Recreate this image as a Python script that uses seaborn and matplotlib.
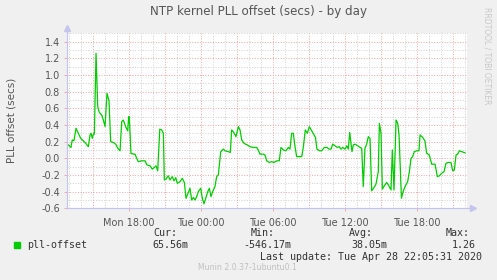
import matplotlib
matplotlib.use("Agg")
import matplotlib.pyplot as plt
import seaborn as sns
import numpy as np
import pandas as pd

# ---- data (hours since Mon 00:00, offset in seconds) ----
hours = [12.83, 12.96, 13.18, 13.29, 13.43, 13.60, 13.79, 13.99, 14.35, 14.63,
         14.77, 14.85, 14.96, 15.04, 15.13, 15.27, 15.41, 15.54, 15.74, 15.88,
         16.02, 16.18, 16.35, 16.49, 16.71, 16.91, 17.08, 17.27, 17.41, 17.54,
         17.74, 17.91, 17.99, 18.04, 18.18, 18.38, 18.52, 18.66, 18.79, 19.08,
         19.35, 19.52, 19.77, 19.96, 20.13, 20.27, 20.41, 20.58, 20.74, 20.88,
         20.96, 21.10, 21.29, 21.43, 21.62, 21.77, 21.91, 22.04, 22.27, 22.46,
         22.63, 22.77, 22.91, 23.10, 23.24, 23.38, 23.52, 23.66, 23.79, 23.99,
         24.13, 24.27, 24.41, 24.58, 24.71, 24.85, 24.99, 25.18, 25.32, 25.46,
         25.66, 25.88, 26.02, 26.29, 26.46, 26.57, 26.71, 26.93, 27.13, 27.27,
         27.41, 27.60, 27.88, 28.10, 28.38, 28.66, 28.79, 28.93, 29.21, 29.35,
         29.49, 29.71, 29.91, 30.10, 30.33, 30.54, 30.68, 30.88, 31.10, 31.29,
         31.43, 31.57, 31.71, 31.85, 31.99, 32.27, 32.41, 32.54, 32.71, 32.88,
         33.04, 33.24, 33.43, 33.56, 33.68, 33.89, 34.07, 34.29, 34.54, 34.68,
         34.85, 34.99, 35.18, 35.38, 35.52, 35.68, 35.82, 36.02, 36.16, 36.29,
         36.41, 36.52, 36.60, 36.71, 36.85, 37.08, 37.27, 37.41, 37.54, 37.68,
         37.82, 37.96, 38.10, 38.24, 38.43, 38.60, 38.79, 38.88, 39.02, 39.13,
         39.29, 39.49, 39.63, 39.85, 39.96, 40.10, 40.27, 40.41, 40.52, 40.72,
         40.88, 41.02, 41.24, 41.38, 41.52, 41.66, 41.79, 41.99, 42.18, 42.27,
         42.49, 42.68, 42.82, 43.04, 43.24, 43.52, 43.71, 43.88, 44.07, 44.27,
         44.43, 44.63, 44.85, 44.99, 45.13, 45.27, 45.41, 45.54, 45.74, 46.02]
offset = [0.18, 0.16, 0.13, 0.22, 0.21, 0.36, 0.30, 0.24, 0.19, 0.14,
          0.28, 0.30, 0.24, 0.29, 0.29, 1.26, 0.62, 0.55, 0.52, 0.46,
          0.38, 0.78, 0.69, 0.20, 0.19, 0.17, 0.12, 0.09, 0.44, 0.46,
          0.38, 0.33, 0.50, 0.50, 0.06, 0.05, 0.05, 0.00, -0.04, -0.03,
          -0.03, -0.08, -0.09, -0.13, -0.11, -0.09, -0.15, 0.35, 0.34, 0.30,
          -0.26, -0.25, -0.21, -0.26, -0.22, -0.27, -0.23, -0.30, -0.28, -0.24,
          -0.29, -0.48, -0.43, -0.36, -0.50, -0.47, -0.50, -0.46, -0.40, -0.36,
          -0.48, -0.546, -0.48, -0.40, -0.36, -0.46, -0.40, -0.34, -0.22, -0.20,
          0.08, 0.11, 0.09, 0.08, 0.07, 0.34, 0.32, 0.26, 0.38, 0.34,
          0.22, 0.18, 0.16, 0.14, 0.13, 0.13, 0.10, 0.05, 0.05, 0.04,
          -0.03, -0.05, -0.04, -0.05, -0.03, -0.03, 0.13, 0.10, 0.09, 0.13,
          0.11, 0.30, 0.30, 0.14, 0.02, 0.02, 0.02, 0.13, 0.34, 0.30,
          0.38, 0.33, 0.28, 0.25, 0.11, 0.09, 0.09, 0.13, 0.13, 0.11,
          0.11, 0.17, 0.15, 0.13, 0.14, 0.11, 0.13, 0.11, 0.15, 0.11,
          0.31, 0.17, 0.08, 0.16, 0.17, 0.15, 0.13, 0.12, -0.34, 0.12,
          0.17, 0.26, 0.24, -0.39, -0.35, -0.31, -0.16, 0.42, 0.30, -0.37,
          -0.33, -0.29, -0.32, -0.38, 0.10, -0.38, 0.46, 0.42, 0.28, -0.48,
          -0.39, -0.34, -0.28, -0.16, 0.00, 0.02, 0.08, 0.09, 0.09, 0.28,
          0.25, 0.21, 0.06, 0.04, -0.07, -0.07, -0.22, -0.21, -0.18, -0.16,
          -0.06, -0.05, -0.05, -0.15, -0.14, 0.04, 0.05, 0.09, 0.08, 0.0656]

xtick_hours = [18, 24, 30, 36, 42]
xtick_labels = ["Mon 18:00", "Tue 00:00", "Tue 06:00", "Tue 12:00", "Tue 18:00"]
series_name = "pll-offset"
stat_names = ["Cur:", "Min:", "Avg:", "Max:"]
stat_values = ["65.56m", "-546.17m", "38.05m", "1.26"]

df = pd.DataFrame({"hour": hours, "offset": offset})

BG = "#F0F0F0"
GREEN = "#00CC00"
TXT = "#555555"
AXC = "#C4C4EE"
MAJ = "#F0A8A8"
MIN = "#D2D2D2"

W, H = 497, 280
fig = plt.figure(figsize=(W / 100, H / 100), dpi=100, facecolor=BG)
x0, x1 = 67, 467
y0, y1 = 33.3, 208.3
ax = fig.add_axes([x0 / W, 1 - y1 / H, (x1 - x0) / W, (y1 - y0) / H])
ax.set_facecolor("white")

xmin = 12.85
xmax = xmin + 400 / 12.0
ax.set_xlim(xmin, xmax)
ax.set_ylim(-0.6, 1.5)

dots = (0, (1, 1.6))
# grids
for h in np.arange(13, 47, 1):
    if h % 3 != 0:
        ax.axvline(h, color=MIN, lw=0.72, ls=dots, zorder=1)
for v in np.arange(-0.5, 1.51, 0.2):
    ax.axhline(v, color=MIN, lw=0.72, ls=dots, zorder=1)
for h in np.arange(15, 47, 3):
    ax.axvline(h, color=MAJ, lw=0.72, ls=dots, zorder=1.5)
for v in np.arange(-0.4, 1.41, 0.2):
    ax.axhline(v, color=MAJ, lw=0.72, ls=dots, zorder=1.5)

sns.lineplot(data=df, x="hour", y="offset", ax=ax, color=GREEN, lw=0.9,
             zorder=3, legend=False)

for s in ax.spines.values():
    s.set_visible(False)

# axes lines with arrows
ax.plot([0, 1.01], [0, 0], transform=ax.transAxes, color=AXC, lw=0.9,
        clip_on=False, zorder=4)
ax.plot([0, 0], [0, 1.03], transform=ax.transAxes, color=AXC, lw=0.9,
        clip_on=False, zorder=4)
ax.plot([1.015], [0], transform=ax.transAxes, marker=">", ms=4, color=AXC,
        clip_on=False, zorder=4)
ax.plot([0], [1.03], transform=ax.transAxes, marker="^", ms=4, color=AXC,
        clip_on=False, zorder=4)

ax.set_xticks(xtick_hours)
ax.set_xticklabels(xtick_labels)
ax.set_yticks(np.round(np.arange(-0.6, 1.41, 0.2), 1))
ax.set_yticklabels([f"{v:.1f}" for v in np.arange(-0.6, 1.41, 0.2)])
ax.tick_params(axis="both", length=2, width=0.7, color=MAJ, labelsize=7,
               labelcolor=TXT, pad=3)
ax.tick_params(axis="x", pad=5)
ax.set_xlabel("")
ax.set_ylabel("")

fig.text(12 / W, 1 - 120 / H, "PLL offset (secs)", rotation=90, ha="center",
         va="center", fontsize=7.5, color=TXT)
fig.text(258 / W, 1 - 12 / H, "NTP kernel PLL offset (secs) - by day",
         ha="center", va="center", fontsize=8.6, color=TXT)
fig.text(487 / W, 1 - 56 / H, "RRDTOOL / TOBI OETIKER", rotation=270,
         ha="center", va="center", fontsize=5.5, color="#C8C8C8")

# legend
fig.patches.append(plt.Rectangle((14 / W, 1 - 247.5 / H), 5.5 / W, 5.5 / H,
                                 transform=fig.transFigure, color=GREEN))
mono = "DejaVu Sans Mono"
lc = "#333333"
fig.text(27 / W, 1 - 245 / H, series_name, family=mono, fontsize=7.2,
         color=lc, va="center", ha="left")
stat_right = [188, 291, 387, 476]
name_right = [177, 275, 373, 470]
for nm, val, vr, nr in zip(stat_names, stat_values, stat_right, name_right):
    fig.text(nr / W, 1 - 232.5 / H, nm, family=mono, fontsize=7.2, color=lc,
             va="center", ha="right")
    fig.text(vr / W, 1 - 245 / H, val, family=mono, fontsize=7.2, color=lc,
             va="center", ha="right")
fig.text(482 / W, 1 - 257 / H, "Last update: Tue Apr 28 22:05:31 2020",
         family=mono, fontsize=7.2, color=lc, va="center", ha="right")
fig.text(248 / W, 1 - 268 / H, "Munin 2.0.37-1ubuntu0.1", fontsize=5.6,
         color="#C0C0C0", va="center", ha="center")

fig.savefig("out.png", dpi=100, facecolor=BG)
